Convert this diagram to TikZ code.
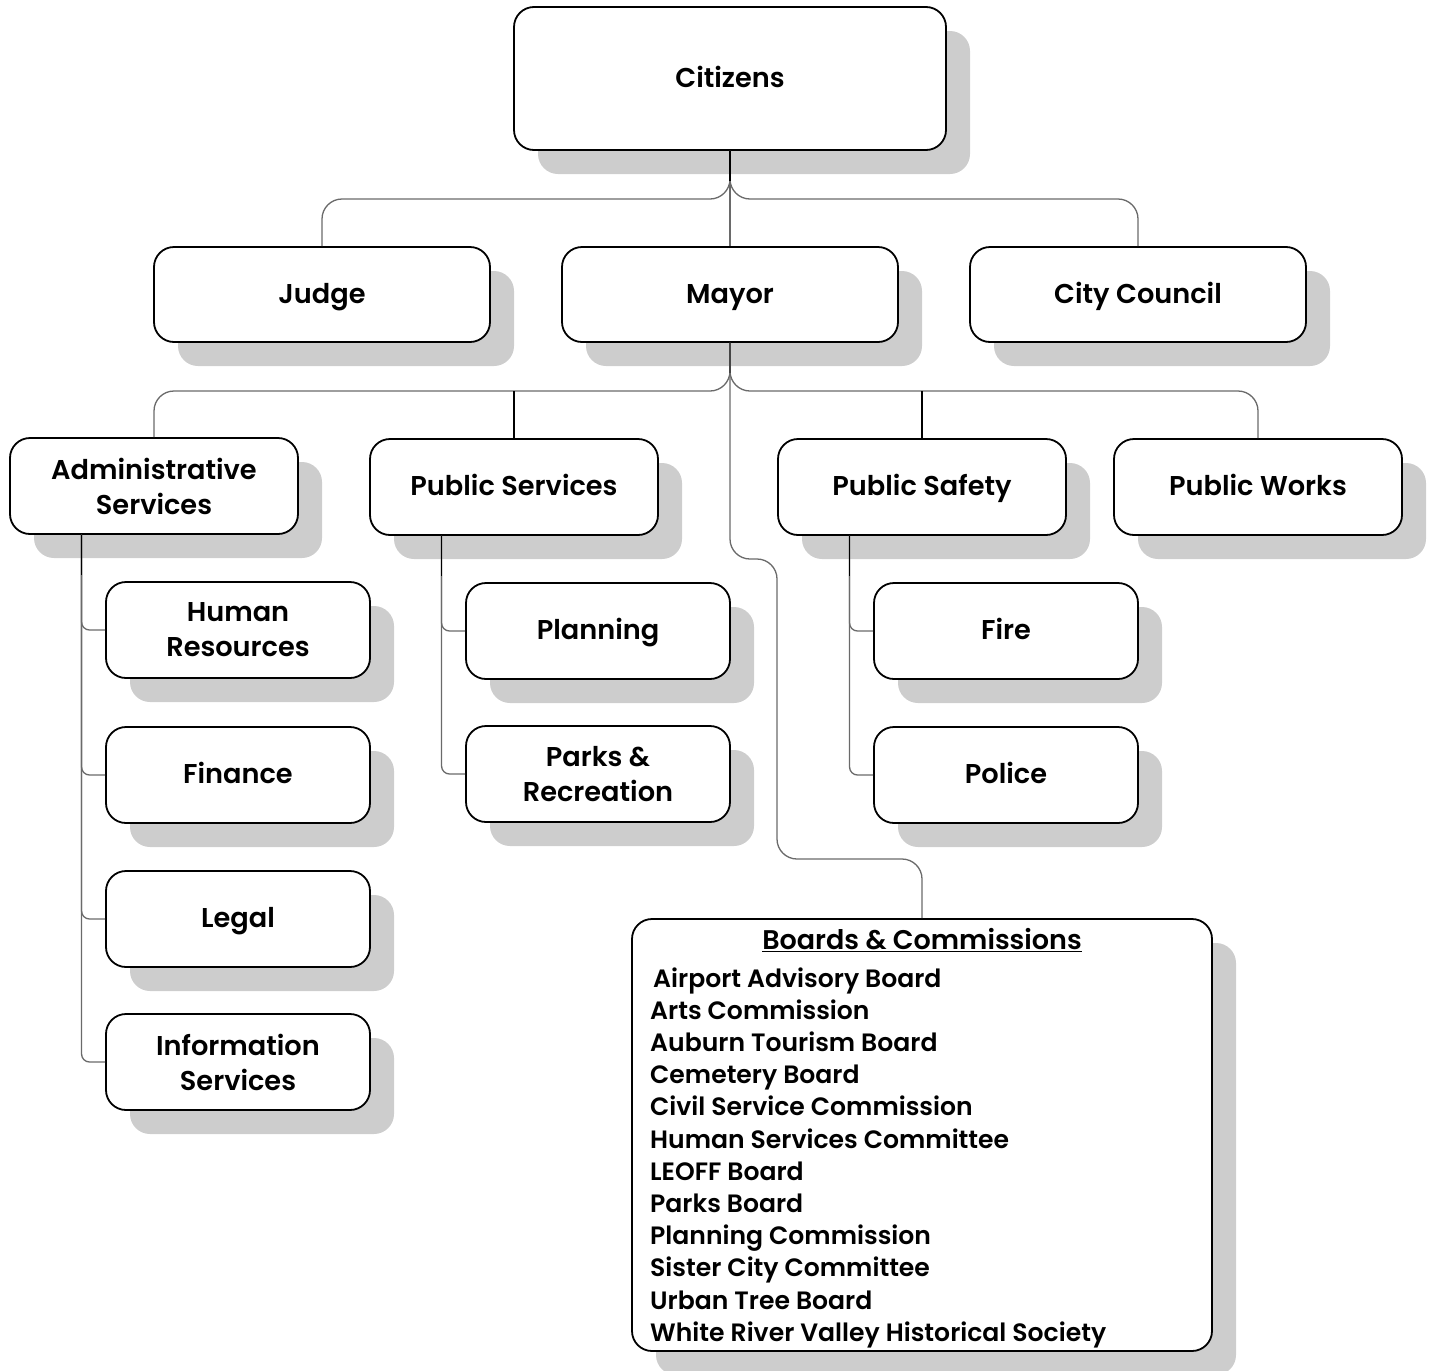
\documentclass[tikz,border=0pt]{standalone}
\usepackage{fontspec}
\setmainfont{Poppins SemiBold}
\usetikzlibrary{shadows,calc}
\definecolor{shadowgray}{HTML}{CDCDCD}
\definecolor{linegray}{HTML}{6A6A6A}
\begin{document}
\begin{tikzpicture}[x=1pt,y=-1pt,
  box/.style={draw=black, line width=1.8pt, rounded corners=20pt, fill=white,
    align=center, inner sep=0pt, font=\fontsize{27.2}{35}\selectfont,
    general shadow={draw=none, fill=shadowgray, shadow xshift=24pt, shadow yshift=-24pt}},
  one/.style={text height=17.5pt, text depth=0pt},
  topbox/.style={box, minimum width=432pt, minimum height=143pt},
  midbox/.style={box, minimum width=336pt, minimum height=95pt},
  deptbox/.style={box, minimum width=288pt, minimum height=96pt},
  subbox/.style={box, minimum width=264pt, minimum height=96pt},
  conn/.style={draw=linegray, line width=1.3pt, rounded corners=20pt},
  subconn/.style={draw=linegray, line width=1.3pt, rounded corners=8pt},
  stem/.style={draw=black, line width=1.8pt},
  listtext/.style={anchor=base west, inner sep=0pt, font=\fontsize{25.1}{30}\selectfont}
]
\useasboundingbox (0,0) rectangle (1433,1371);

% boxes
\node[topbox, one] (citizens) at (730,78.5) {Citizens};
\node[midbox, one] (judge) at (322,294.5) {Judge};
\node[midbox, one] (mayor) at (730,294.5) {Mayor};
\node[midbox, one] (council) at (1138,294.5) {City Council};

\node[deptbox] (admin) at (154,486) {Administrative\\Services};
\node[deptbox, one] (pubserv) at (514,487) {Public Services};
\node[deptbox, one] (pubsafe) at (922,487) {Public Safety};
\node[deptbox, one] (pubworks) at (1258,487) {Public Works};

\node[subbox] (hr) at (238,630) {Human\\Resources};
\node[subbox, one] (finance) at (238,775) {Finance};
\node[subbox, one] (legal) at (238,919) {Legal};
\node[subbox] (info) at (238,1062) {Information\\Services};

\node[subbox, one] (planning) at (598,631) {Planning};
\node[subbox] (parks) at (598,774) {Parks \&\\Recreation};

\node[subbox, one] (fire) at (1006,631) {Fire};
\node[subbox, one] (police) at (1006,775) {Police};

\node[box, minimum width=580pt, minimum height=432pt] (boards) at (922,1135) {};

% boards text
\node[listtext, anchor=base, font=\fontsize{27}{30}\selectfont] (btitle) at (922,949) {\underline{Boards \& Commissions}};
\node[listtext] (l1) at (653,987) {Airport Advisory Board};
\foreach \t [count=\i from 2] in {Arts Commission, Auburn Tourism Board, Cemetery Board,
  Civil Service Commission, Human Services Committee, LEOFF Board, Parks Board,
  Planning Commission, Sister City Committee, Urban Tree Board,
  White River Valley Historical Society}
  \node[listtext] (l\i) at (650,{987+(\i-1)*32.2}) {\t};

% junction coordinates
\coordinate (j1) at (730,199);
\coordinate (j2) at (730,391);
\coordinate (m1) at (730,559);
\coordinate (m2) at (777,559);
\coordinate (m3) at (777,859);
\coordinate (m4) at (922,859);

% level 1 connectors
\draw[conn] (citizens.south) |- (judge.north |- j1) -- (judge.north);
\draw[conn] (citizens.south) |- (council.north |- j1) -- (council.north);
\draw[conn] (citizens.south) -- (mayor.north);
\draw[stem] (citizens.south) -- ([yshift=18pt]j1);

% level 2 connectors
\draw[conn] (mayor.south) |- (admin.north |- j2) -- (admin.north);
\draw[conn] (mayor.south) |- (pubworks.north |- j2) -- (pubworks.north);
\draw[stem] (pubserv.north) -- (pubserv.north |- j2);
\draw[stem] (pubsafe.north) -- (pubsafe.north |- j2);
\draw[stem] (mayor.south) -- ([yshift=18pt]j2);
\draw[conn] (mayor.south) -- (m1) -- (m2) -- (m3) -- (m4) -- (boards.north);

% sub connectors
\coordinate (as) at ($(admin.south west)!0.25!(admin.south east)$);
\coordinate (ps) at ($(pubserv.south west)!0.25!(pubserv.south east)$);
\coordinate (ss) at ($(pubsafe.south west)!0.25!(pubsafe.south east)$);
\foreach \c in {hr,finance,legal,info} \draw[subconn] (as) |- (\c.west);
\foreach \c in {planning,parks} \draw[subconn] (ps) |- (\c.west);
\foreach \c in {fire,police} \draw[subconn] (ss) |- (\c.west);
\draw[stem] (as) -- ++(0,40);
\draw[stem] (ps) -- ++(0,40);
\draw[stem] (ss) -- ++(0,40);
\end{tikzpicture}
\end{document}
